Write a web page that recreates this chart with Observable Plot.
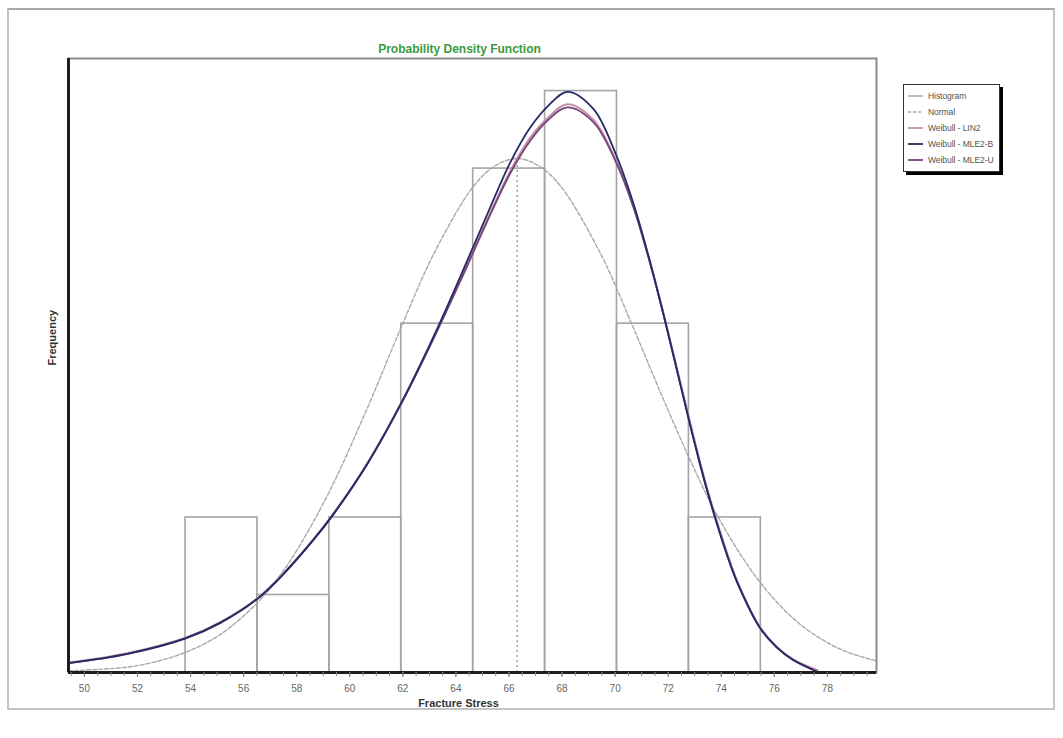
<!DOCTYPE html>
<html><head><meta charset="utf-8">
<script src="https://cdn.jsdelivr.net/npm/d3@7"></script>
<script src="https://cdn.jsdelivr.net/npm/@observablehq/plot@0.6"></script>
<style>
body{margin:0;background:#fff;font-family:"Liberation Sans",Arial,sans-serif;}
#wrap{position:relative;width:1063px;height:738px;overflow:hidden;}
#border{position:absolute;left:7px;top:8px;width:1044px;height:698px;border:2px solid #c4c4c4;border-top-color:#a8a8a8;}
#chart{position:absolute;left:0;top:0;}
#legend{position:absolute;left:903px;top:84px;width:97px;height:88px;border:1px solid #333;box-shadow:3px 3px 0 #000;background:#fff;font-size:8.6px;color:#555;padding-top:3px;box-sizing:border-box;overflow:hidden;}
.row{display:flex;align-items:center;height:16px;padding-left:4px;white-space:nowrap;letter-spacing:-0.1px;}
.row svg{margin-right:5px;flex:none;}
</style>
</head><body>
<div id="wrap"><div id="border"></div><div id="chart"></div><div id="legend"></div></div>
<script>
// ---- data ----
const titleText = "Probability Density Function";
const xLabel = "Fracture Stress";
const yLabel = "Frequency";
const majorTicks = [50, 52, 54, 56, 58, 60, 62, 64, 66, 68, 70, 72, 74, 76, 78];
const minorTicks = [49.5, 50, 50.5, 51, 51.5, 52, 52.5, 53, 53.5, 54, 54.5, 55, 55.5, 56, 56.5, 57, 57.5, 58, 58.5, 59, 59.5, 60, 60.5, 61, 61.5, 62, 62.5, 63, 63.5, 64, 64.5, 65, 65.5, 66, 66.5, 67, 67.5, 68, 68.5, 69, 69.5, 70, 70.5, 71, 71.5, 72, 72.5, 73, 73.5, 74, 74.5, 75, 75.5, 76, 76.5, 77, 77.5, 78, 78.5, 79, 79.5];

const binEdges = [53.81, 56.52, 59.23, 61.94, 64.65, 67.36, 70.07, 72.78, 75.49];
const binFreq  = [2.0, 1.0, 2.0, 4.5, 6.5, 7.5, 4.5, 2.0];

const normalMean = 66.31;
const normalPeak = 6.63;
const normalX = [49.40, 50.50, 51.62, 52.70, 53.81, 55.12, 56.52, 57.30, 58.03, 59.27, 60.66, 61.91, 63.15, 64.66, 65.50, 66.31, 67.10, 67.93, 69.44, 70.57, 71.70, 72.83, 73.89, 75.47, 76.98, 78.49, 79.84];
const normalY = [0.02, 0.04, 0.07, 0.14, 0.26, 0.49, 0.90, 1.22, 1.59, 2.36, 3.41, 4.43, 5.39, 6.27, 6.54, 6.63, 6.54, 6.28, 5.41, 4.54, 3.62, 2.74, 2.00, 1.16, 0.62, 0.30, 0.15];

const weibullX = [49.40, 51.62, 53.81, 55.12, 56.52, 57.50, 58.63, 59.38, 60.66, 62.02, 63.30, 64.17, 65.18, 66.05, 66.80, 67.45, 68.20, 69.18, 70.01, 70.69, 71.33, 71.82, 72.46, 72.95, 73.47, 74.23, 74.60, 75.47, 76.10, 76.71, 77.62];
const weibullLIN2  = [0.13, 0.25, 0.45, 0.65, 0.96, 1.28, 1.72, 2.05, 2.70, 3.53, 4.42, 5.07, 5.84, 6.47, 6.90, 7.15, 7.33, 7.13, 6.62, 6.02, 5.28, 4.64, 3.74, 3.05, 2.37, 1.53, 1.18, 0.58, 0.33, 0.17, 0.03];
const weibullMLE2B = [0.12, 0.24, 0.44, 0.64, 0.95, 1.27, 1.71, 2.04, 2.69, 3.53, 4.44, 5.11, 5.91, 6.58, 7.03, 7.30, 7.49, 7.27, 6.70, 6.05, 5.28, 4.62, 3.71, 3.02, 2.34, 1.50, 1.16, 0.57, 0.32, 0.16, 0.01];
const weibullMLE2U = [0.12, 0.24, 0.44, 0.64, 0.95, 1.27, 1.71, 2.04, 2.69, 3.52, 4.41, 5.05, 5.82, 6.44, 6.86, 7.12, 7.29, 7.10, 6.60, 6.00, 5.26, 4.62, 3.72, 3.03, 2.35, 1.51, 1.17, 0.57, 0.32, 0.16, 0.01];

const seriesNames = ["Histogram", "Normal", "Weibull - LIN2", "Weibull - MLE2-B", "Weibull - MLE2-U"];
const seriesColors = ["#a4a4a4", "#a8a8a8", "#c98fa8", "#262a66", "#74457a"];
const seriesDash = [null, "3,2", null, null, null];

// ---- build tables ----
const bins = binFreq.map((f, i) => ({x0: binEdges[i], x1: binEdges[i + 1], freq: f}));
const normalPts = normalX.map((x, i) => ({x, y: normalY[i]}));
const mk = arr => weibullX.map((x, i) => ({x, y: arr[i]}));
const xDomain = [49.4, 79.85];
const font = "Liberation Sans, Arial, sans-serif";

const chart = Plot.plot({
  width: 1063, height: 738,
  marginLeft: 68, marginRight: 187, marginTop: 58, marginBottom: 66,
  x: {domain: xDomain},
  y: {domain: [0, 7.92], axis: null},
  style: {fontFamily: font, background: "transparent", overflow: "visible"},
  marks: [
    Plot.rectY(bins, {x1: "x0", x2: "x1", y: "freq", fill: "none", stroke: seriesColors[0], strokeWidth: 1.6}),
    Plot.ruleX([normalMean], {y1: 0, y2: normalPeak, stroke: "#a8a8a8", strokeWidth: 1.6, strokeDasharray: "2,3"}),
    Plot.line(normalPts, {x: "x", y: "y", stroke: seriesColors[1], strokeWidth: 1.4, strokeDasharray: "4,2", curve: "catmull-rom"}),
    Plot.line(mk(weibullLIN2), {x: "x", y: "y", stroke: seriesColors[2], strokeWidth: 2, curve: "catmull-rom"}),
    Plot.line(mk(weibullMLE2U), {x: "x", y: "y", stroke: seriesColors[4], strokeWidth: 1.8, curve: "catmull-rom"}),
    Plot.line(mk(weibullMLE2B), {x: "x", y: "y", stroke: seriesColors[3], strokeWidth: 1.8, curve: "catmull-rom"}),
    Plot.frame({stroke: "#8c8c8c", strokeWidth: 2}),
    Plot.ruleX([xDomain[0]], {stroke: "#1e1e1e", strokeWidth: 3}),
    Plot.ruleY([0], {stroke: "#1e1e1e", strokeWidth: 3}),
    Plot.axisX({ticks: minorTicks, tickSize: 4, tickFormat: () => "", stroke: "#888", label: null}),
    Plot.axisX({ticks: majorTicks, tickSize: 5, tickPadding: 7, tickFormat: d => String(d), fontSize: 10, fill: "#666", stroke: "#777", label: null}),
    Plot.text([titleText], {frameAnchor: "top", dx: -13, dy: -14, fill: "#3b9a3b", fontWeight: "bold", fontSize: 12}),
    Plot.text([xLabel], {frameAnchor: "bottom", dx: -14, dy: 34, fill: "#333", fontWeight: "bold", fontSize: 11}),
    Plot.text([yLabel], {frameAnchor: "left", dx: -16, rotate: -90, fill: "#333", fontWeight: "bold", fontSize: 11})
  ]
});
document.getElementById("chart").appendChild(chart);

// ---- legend ----
const legend = d3.select("#legend");
seriesNames.forEach((name, i) => {
  const row = legend.append("div").attr("class", "row");
  const svg = row.append("svg").attr("width", 15).attr("height", 6);
  svg.append("line").attr("x1", 0).attr("x2", 15).attr("y1", 3).attr("y2", 3)
    .attr("stroke", seriesColors[i]).attr("stroke-width", i >= 2 ? 1.8 : 1.4)
    .attr("stroke-dasharray", seriesDash[i]);
  row.append("span").text(name);
});
</script>
</body></html>
